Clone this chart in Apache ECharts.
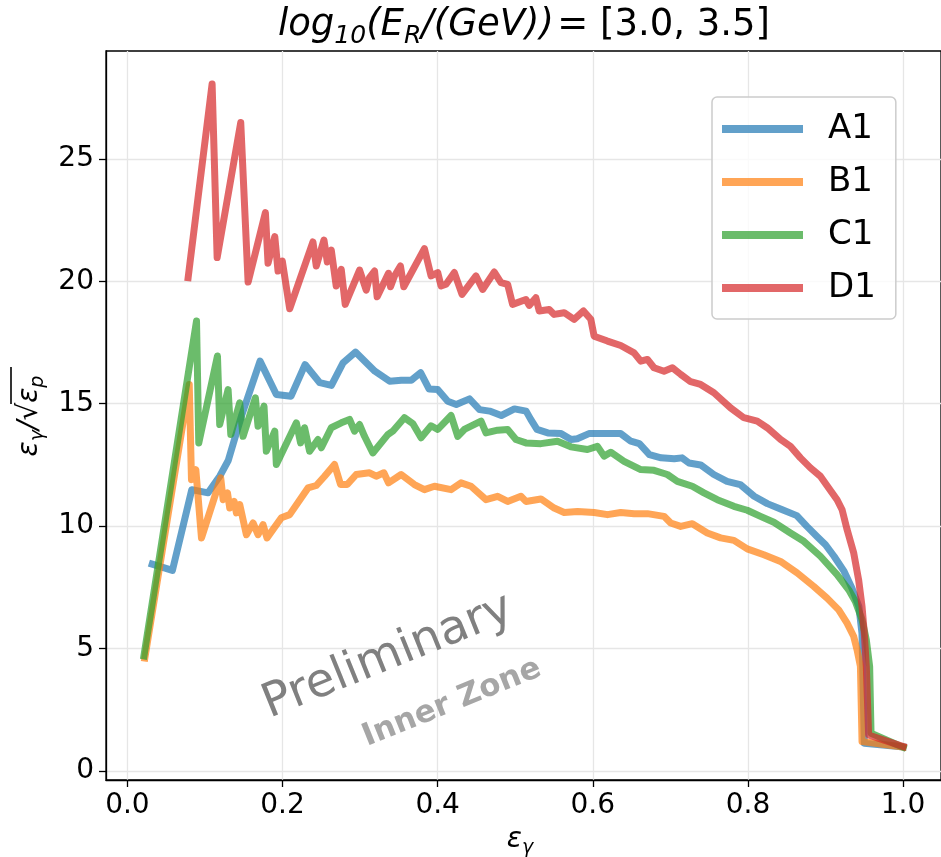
<!DOCTYPE html>
<html>
<head>
<meta charset="utf-8">
<script src="https://cdn.jsdelivr.net/npm/echarts@6/dist/echarts.min.js"></script>
<style>html,body{margin:0;padding:0;background:#fff}#c{width:941px;height:857px}</style>
</head>
<body>
<div id="c"></div>
<script>
const seriesNames = ['A1', 'B1', 'C1', 'D1'];
const xTicks = [0.0, 0.2, 0.4, 0.6, 0.8, 1.0];
const yTicks = [0, 5, 10, 15, 20, 25];

const a1X = [0.032, 0.058, 0.083, 0.104, 0.119, 0.130, 0.138, 0.147, 0.171, 0.192, 0.211, 0.229, 0.248, 0.263, 0.278, 0.294, 0.319, 0.338, 0.353, 0.366, 0.378, 0.389, 0.400, 0.413, 0.424, 0.441, 0.454, 0.467, 0.482, 0.499, 0.514, 0.520, 0.528, 0.542, 0.559, 0.572, 0.580, 0.595, 0.615, 0.636, 0.649, 0.660, 0.673, 0.688, 0.705, 0.715, 0.724, 0.739, 0.756, 0.773, 0.790, 0.808, 0.825, 0.842, 0.863, 0.876, 0.889, 0.900, 0.911, 0.924, 0.934, 0.943, 0.947, 0.948, 0.950, 1.000];
const a1Y = [8.45, 8.19, 11.49, 11.36, 12.04, 12.68, 13.54, 14.49, 16.74, 15.38, 15.31, 16.60, 15.86, 15.75, 16.67, 17.11, 16.33, 15.92, 15.96, 15.96, 16.27, 15.60, 15.58, 15.10, 14.97, 15.20, 14.76, 14.70, 14.52, 14.79, 14.70, 14.36, 13.95, 13.81, 13.78, 13.54, 13.57, 13.78, 13.78, 13.78, 13.47, 13.37, 12.92, 12.79, 12.75, 12.79, 12.58, 12.50, 12.11, 11.83, 11.70, 11.22, 10.92, 10.70, 10.43, 9.99, 9.58, 9.24, 8.77, 8.15, 7.47, 6.72, 5.63, 4.27, 1.13, 0.98];

const b1X = [0.0225, 0.0797, 0.0826, 0.0882, 0.0955, 0.1203, 0.1234, 0.129, 0.1319, 0.1376, 0.1405, 0.1448, 0.1534, 0.162, 0.1684, 0.1749, 0.18, 0.1985, 0.2092, 0.2328, 0.2435, 0.2542, 0.267, 0.2748, 0.2834, 0.295, 0.3121, 0.3207, 0.3306, 0.3366, 0.3529, 0.37, 0.3829, 0.3958, 0.4173, 0.4301, 0.443, 0.4623, 0.4773, 0.4902, 0.5073, 0.5138, 0.5331, 0.5502, 0.5631, 0.5803, 0.6017, 0.6189, 0.636, 0.6532, 0.6704, 0.6918, 0.7004, 0.7133, 0.7283, 0.7476, 0.7647, 0.7819, 0.7991, 0.8205, 0.842, 0.8634, 0.8848, 0.902, 0.917, 0.9278, 0.9364, 0.9407, 0.945, 0.9471, 1.0];
const b1Y = [4.61, 15.79, 11.9, 12.31, 9.52, 11.97, 11.08, 11.36, 10.74, 11.01, 10.54, 10.88, 9.65, 10.13, 9.65, 10.06, 9.52, 10.34, 10.47, 11.56, 11.66, 12.04, 12.52, 11.7, 11.7, 12.11, 12.18, 12.04, 12.18, 11.77, 12.11, 11.7, 11.49, 11.63, 11.49, 11.77, 11.63, 11.08, 11.22, 11.01, 11.22, 11.01, 11.11, 10.74, 10.56, 10.6, 10.56, 10.47, 10.56, 10.51, 10.51, 10.4, 10.13, 9.99, 10.1, 9.72, 9.52, 9.42, 9.07, 8.83, 8.56, 8.09, 7.54, 7.06, 6.58, 6.04, 5.49, 4.95, 4.27, 1.2, 0.98];

const c1X = [0.0213, 0.0891, 0.092, 0.1161, 0.119, 0.1298, 0.1333, 0.1448, 0.1491, 0.165, 0.1684, 0.1761, 0.1791, 0.19, 0.192, 0.2178, 0.2233, 0.2284, 0.2349, 0.2457, 0.25, 0.2628, 0.2757, 0.2864, 0.2928, 0.2993, 0.3057, 0.3164, 0.3357, 0.3421, 0.3571, 0.3679, 0.3786, 0.3915, 0.4001, 0.4173, 0.4259, 0.4344, 0.4559, 0.4623, 0.4773, 0.4902, 0.5009, 0.5138, 0.5331, 0.5545, 0.5717, 0.5931, 0.606, 0.6145, 0.6231, 0.6403, 0.6618, 0.6789, 0.6961, 0.709, 0.7283, 0.7433, 0.7605, 0.7819, 0.7991, 0.8162, 0.8334, 0.8548, 0.872, 0.8934, 0.9149, 0.9299, 0.9385, 0.9471, 0.9526, 0.9569, 0.9587, 1.0];
const c1Y = [4.7, 18.38, 13.4, 16.95, 14.15, 15.58, 13.74, 15.04, 13.67, 15.24, 14.08, 14.9, 13.06, 13.88, 12.52, 14.22, 13.4, 14.02, 13.06, 13.54, 13.2, 14.02, 14.22, 14.36, 13.88, 14.15, 13.67, 12.99, 13.74, 13.88, 14.43, 14.19, 13.61, 14.1, 13.95, 14.52, 13.67, 13.95, 14.29, 13.81, 13.92, 13.95, 13.54, 13.4, 13.37, 13.47, 13.24, 13.13, 13.26, 12.86, 13.02, 12.65, 12.31, 12.28, 12.11, 11.83, 11.63, 11.36, 11.08, 10.81, 10.65, 10.4, 10.16, 9.72, 9.38, 8.77, 8.02, 7.4, 6.92, 6.18, 5.36, 4.27, 1.54, 0.97];

const d1X = [0.0783, 0.1092, 0.1157, 0.1461, 0.1556, 0.1779, 0.1813, 0.19, 0.1942, 0.1997, 0.2092, 0.2392, 0.2435, 0.2534, 0.2577, 0.2628, 0.2692, 0.2757, 0.2808, 0.2993, 0.3079, 0.3121, 0.3186, 0.322, 0.3366, 0.3392, 0.3443, 0.352, 0.3563, 0.3829, 0.3915, 0.4001, 0.4044, 0.4108, 0.4215, 0.4314, 0.4494, 0.458, 0.473, 0.4816, 0.4902, 0.4966, 0.5138, 0.518, 0.5266, 0.5309, 0.5438, 0.5502, 0.5631, 0.5759, 0.588, 0.5974, 0.6017, 0.6189, 0.636, 0.6532, 0.6618, 0.6704, 0.6789, 0.6918, 0.7026, 0.7133, 0.7261, 0.739, 0.7561, 0.7776, 0.7947, 0.812, 0.8248, 0.842, 0.8548, 0.8677, 0.8806, 0.8934, 0.9041, 0.9149, 0.9214, 0.9278, 0.9364, 0.9427, 0.9471, 0.95, 0.9526, 0.9556, 1.0];
const d1Y = [20.15, 28.06, 20.97, 26.49, 19.97, 22.81, 20.74, 21.83, 20.42, 20.83, 18.88, 21.61, 20.63, 21.69, 20.79, 21.28, 19.81, 20.49, 19.06, 20.46, 19.64, 20.15, 20.42, 19.37, 20.33, 19.78, 20.22, 20.63, 19.78, 21.34, 20.22, 20.36, 19.81, 19.88, 20.36, 19.47, 20.22, 19.67, 20.38, 19.95, 19.88, 19.06, 19.26, 19.02, 19.33, 18.79, 18.85, 18.65, 18.72, 18.45, 18.79, 18.45, 17.76, 17.56, 17.38, 17.08, 16.74, 16.81, 16.47, 16.33, 16.47, 16.2, 15.9, 15.79, 15.45, 14.83, 14.43, 14.29, 14.02, 13.54, 13.26, 12.79, 12.38, 12.04, 11.56, 11.08, 10.67, 9.86, 8.9, 7.81, 6.72, 5.63, 4.27, 1.47, 1.0];

const colors = ['rgba(31,119,180,0.7)', 'rgba(255,127,14,0.7)', 'rgba(44,160,44,0.7)', 'rgba(214,39,40,0.7)'];
const xs = [a1X, b1X, c1X, d1X];
const ys = [a1Y, b1Y, c1Y, d1Y];

const FONT = 'DejaVu Sans';
const chart = echarts.init(document.getElementById('c'), null, {renderer: 'canvas'});

const series = seriesNames.map((name, i) => ({
  name: name,
  type: 'line',
  data: xs[i].map((x, k) => [x, ys[i][k]]),
  showSymbol: false,
  symbol: 'none',
  color: colors[i],
  lineStyle: {width: 7, color: colors[i], cap: 'square', join: 'round'},
  emphasis: {disabled: true},
  z: 2 + i
}));

chart.setOption({
  animation: false,
  backgroundColor: '#fff',
  grid: {left: 106, top: 51, width: 836, height: 729, show: true, borderColor: '#000', borderWidth: 1.3, containLabel: false},
  xAxis: {
    type: 'value', min: -0.0276, max: 1.0489,
    axisLine: {show: true, onZero: false, lineStyle: {color: '#000', width: 1.3}},
    axisTick: {show: true, length: 7, lineStyle: {color: '#000', width: 1.3}, customValues: xTicks},
    axisLabel: {customValues: xTicks, formatter: v => v.toFixed(1), fontFamily: FONT, fontSize: 28, color: '#000', margin: 12},
    splitLine: {show: true, lineStyle: {color: '#e6e6e6', width: 1.3}}
  },
  yAxis: {
    type: 'value', min: -0.37, max: 29.41,
    axisLine: {show: true, onZero: false, lineStyle: {color: '#000', width: 1.3}},
    axisTick: {show: true, length: 7, lineStyle: {color: '#000', width: 1.3}, customValues: yTicks},
    axisLabel: {customValues: yTicks, formatter: v => String(v), fontFamily: FONT, fontSize: 28, color: '#000', margin: 12},
    splitLine: {show: true, lineStyle: {color: '#e6e6e6', width: 1.3}}
  },
  legend: {
    data: seriesNames,
    orient: 'vertical',
    left: 712, top: 97,
    padding: [15, 20, 14, 10],
    itemGap: 19,
    itemWidth: 81, itemHeight: 8,
    icon: 'rect',
    backgroundColor: 'rgba(255,255,255,0.8)',
    borderColor: '#cccccc', borderWidth: 1.5, borderRadius: 5,
    formatter: n => '{t|' + n + '}',
    textStyle: {rich: {t: {fontFamily: FONT, fontSize: 34, color: '#000', padding: [0, 0, 0, 20], lineHeight: 40}}}
  },
  series: series,
  graphic: [
    {
      type: 'text', x: 524, y: 25, z: 10,
      style: {
        text: '{i|log}{s|10}{i|(E}{s|R}{i|/(GeV))} {n|= [3.0, 3.5]}',
        textAlign: 'center', textVerticalAlign: 'middle',
        rich: {
          i: {fontFamily: FONT, fontStyle: 'italic', fontSize: 37, lineHeight: 48, fill: '#000'},
          n: {fontFamily: FONT, fontSize: 37, lineHeight: 48, fill: '#000'},
          s: {fontFamily: FONT, fontStyle: 'italic', fontSize: 25, lineHeight: 25, verticalAlign: 'bottom', fill: '#000'}
        }
      }
    },
    {
      type: 'text', x: 520, y: 840, z: 10,
      style: {
        text: '{i|ε}{s|γ}',
        textAlign: 'center', textVerticalAlign: 'middle',
        rich: {
          i: {fontFamily: FONT, fontStyle: 'italic', fontSize: 28, lineHeight: 36, fill: '#000'},
          s: {fontFamily: FONT, fontStyle: 'italic', fontSize: 19, lineHeight: 19, verticalAlign: 'bottom', fill: '#000'}
        }
      }
    },
    {
      type: 'group', x: 30, y: 416, rotation: Math.PI / 2, z: 10,
      children: [
        {
          type: 'text', x: 0, y: 0,
          style: {
            text: '{i|ε}{s|γ}{i|/√}{i|ε}{s|p}',
            textAlign: 'center', textVerticalAlign: 'middle',
            rich: {
              i: {fontFamily: FONT, fontStyle: 'italic', fontSize: 28, lineHeight: 36, fill: '#000'},
              s: {fontFamily: FONT, fontStyle: 'italic', fontSize: 19, lineHeight: 19, verticalAlign: 'bottom', fill: '#000'}
            }
          }
        },
        {
          type: 'line', shape: {x1: 12, y1: -19, x2: 49, y2: -19},
          style: {stroke: '#000', lineWidth: 1.6}
        }
      ]
    },
    {
      type: 'text', x: 388, y: 657, rotation: 22 * Math.PI / 180, z: 1,
      style: {text: 'Preliminary', fontFamily: FONT, fontSize: 47, fill: '#808080', textAlign: 'center', textVerticalAlign: 'middle'}
    },
    {
      type: 'text', x: 452, y: 703, rotation: 22 * Math.PI / 180, z: 1,
      style: {text: 'Inner Zone', fontFamily: FONT, fontWeight: 'bold', fontSize: 31, fill: '#a6a6a6', textAlign: 'center', textVerticalAlign: 'middle'}
    }
  ]
});
</script>
</body>
</html>
